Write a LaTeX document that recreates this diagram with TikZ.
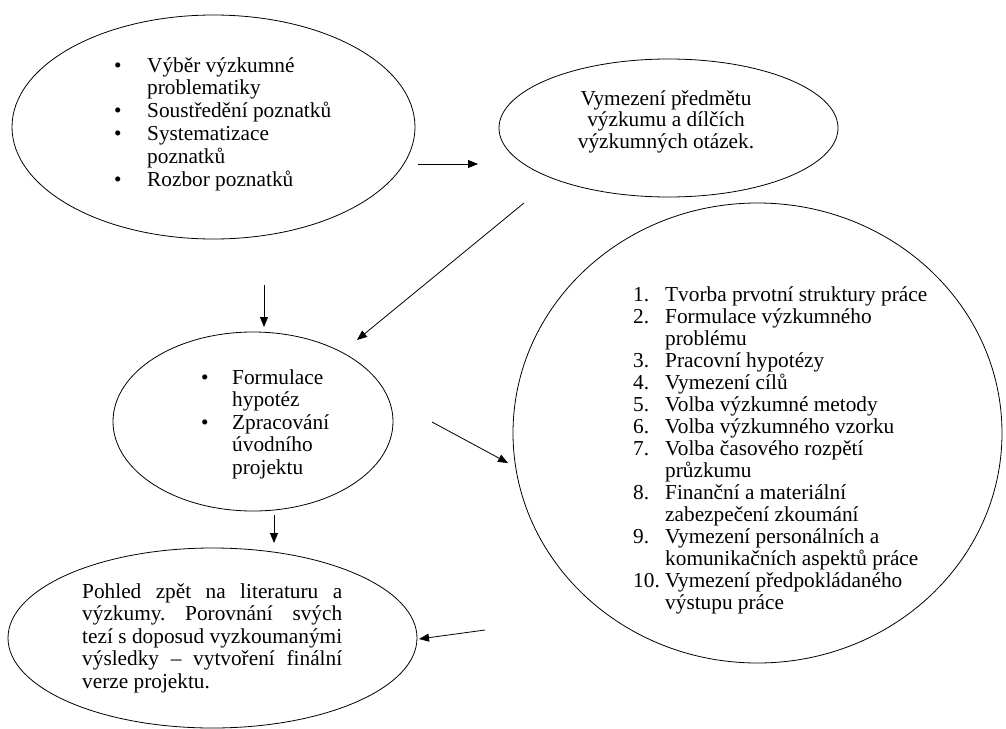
\documentclass[tikz,border=0pt]{standalone}
\usepackage{fontspec}
\setmainfont{Liberation Serif}
\usetikzlibrary{shapes.geometric,arrows.meta}
\frenchspacing
\newcommand{\blt}{\makebox[33pt][l]{\textbullet}}
\newcommand{\bltb}{\makebox[31pt][l]{\textbullet}}
\newcommand{\nm}[1]{\makebox[32pt][l]{#1}}
\newcommand{\inda}{\hspace*{33pt}}
\newcommand{\indb}{\hspace*{31pt}}
\newcommand{\indc}{\hspace*{32pt}}
\newcommand{\jl}[1]{\makebox[260pt][s]{#1}}
\begin{document}
\begin{tikzpicture}[x=1pt,y=-1pt,
  bubble/.style={ellipse,draw=black,line width=0.8pt,inner sep=0pt},
  txt/.style={inner sep=0pt,anchor=base west,align=left},
  arr/.style={line width=0.8pt,-{Triangle[length=10pt,width=8pt]}}]
\clip (0,0) rectangle (1006,728);
\fill[white] (0,0) rectangle (1006,728);
% ellipses
\node[bubble,minimum width=403pt,minimum height=224pt] (e1) at (213.5,127) {};
\node[bubble,minimum width=339pt,minimum height=138pt] (e2) at (668.5,128) {};
\node[bubble,minimum width=280pt,minimum height=179pt] (e3) at (253,421.5) {};
\node[bubble,minimum width=489pt,minimum height=460pt] (e4) at (757.5,433) {};
\node[bubble,minimum width=409pt,minimum height=180pt] (e5) at (212.5,638) {};
% texts (anchored at the baseline of the last line)
\node[txt,font=\fontsize{21.3}{22.8}\selectfont\frenchspacing] (t1) at (114,186) {%
\blt Výběr výzkumné\\ \inda problematiky\\ \blt Soustředění poznatků\\ \blt Systematizace\\ \inda poznatků\\ \blt Rozbor poznatků};
\node[txt,align=center,anchor=base,font=\fontsize{21.3}{21.5}\selectfont\frenchspacing] (t2) at (666,148) {%
Vymezení předmětu\\ výzkumu a dílčích\\ výzkumných otázek.};
\node[txt,font=\fontsize{21.3}{22.5}\selectfont\frenchspacing] (t3) at (201,474) {%
\bltb Formulace\\ \indb hypotéz\\ \bltb Zpracování\\ \indb úvodního\\ \indb projektu};
\node[txt,font=\fontsize{21.3}{22}\selectfont\frenchspacing] (t4) at (633,609) {%
\nm{1.}Tvorba prvotní struktury práce\\
\nm{2.}Formulace výzkumného\\
\indc problému\\
\nm{3.}Pracovní hypotézy\\
\nm{4.}Vymezení cílů\\
\nm{5.}Volba výzkumné metody\\
\nm{6.}Volba výzkumného vzorku\\
\nm{7.}Volba časového rozpětí\\
\indc průzkumu\\
\nm{8.}Finanční a materiální\\
\indc zabezpečení zkoumání\\
\nm{9.}Vymezení personálních a\\
\indc komunikačních aspektů práce\\
\nm{10.}Vymezení předpokládaného\\
\indc výstupu práce};
\node[txt,font=\fontsize{21.3}{22.5}\selectfont\frenchspacing] (t5) at (82,688) {%
\jl{Pohled zpět na literaturu a}\\
\jl{výzkumy. Porovnání svých}\\
\jl{tezí s doposud vyzkoumanými}\\
\jl{výsledky – vytvoření finální}\\
verze projektu.};
% arrow end points
\coordinate (a1s) at (418,164); \coordinate (a1e) at (478,164);
\coordinate (a2s) at (524,203); \coordinate (a2e) at (357,340);
\coordinate (a3s) at (264,285); \coordinate (a3e) at (264,327);
\coordinate (a4s) at (432,422); \coordinate (a4e) at (508,463);
\coordinate (a5s) at (274,515); \coordinate (a5e) at (274,543);
\coordinate (a6s) at (485,630); \coordinate (a6e) at (419,639);
\draw[arr] (a1s) -- (a1e);
\draw[arr] (a2s) -- (a2e);
\draw[arr] (a3s) -- (a3e);
\draw[arr] (a4s) -- (a4e);
\draw[arr] (a5s) -- (a5e);
\draw[arr] (a6s) -- (a6e);
\end{tikzpicture}
\end{document}
